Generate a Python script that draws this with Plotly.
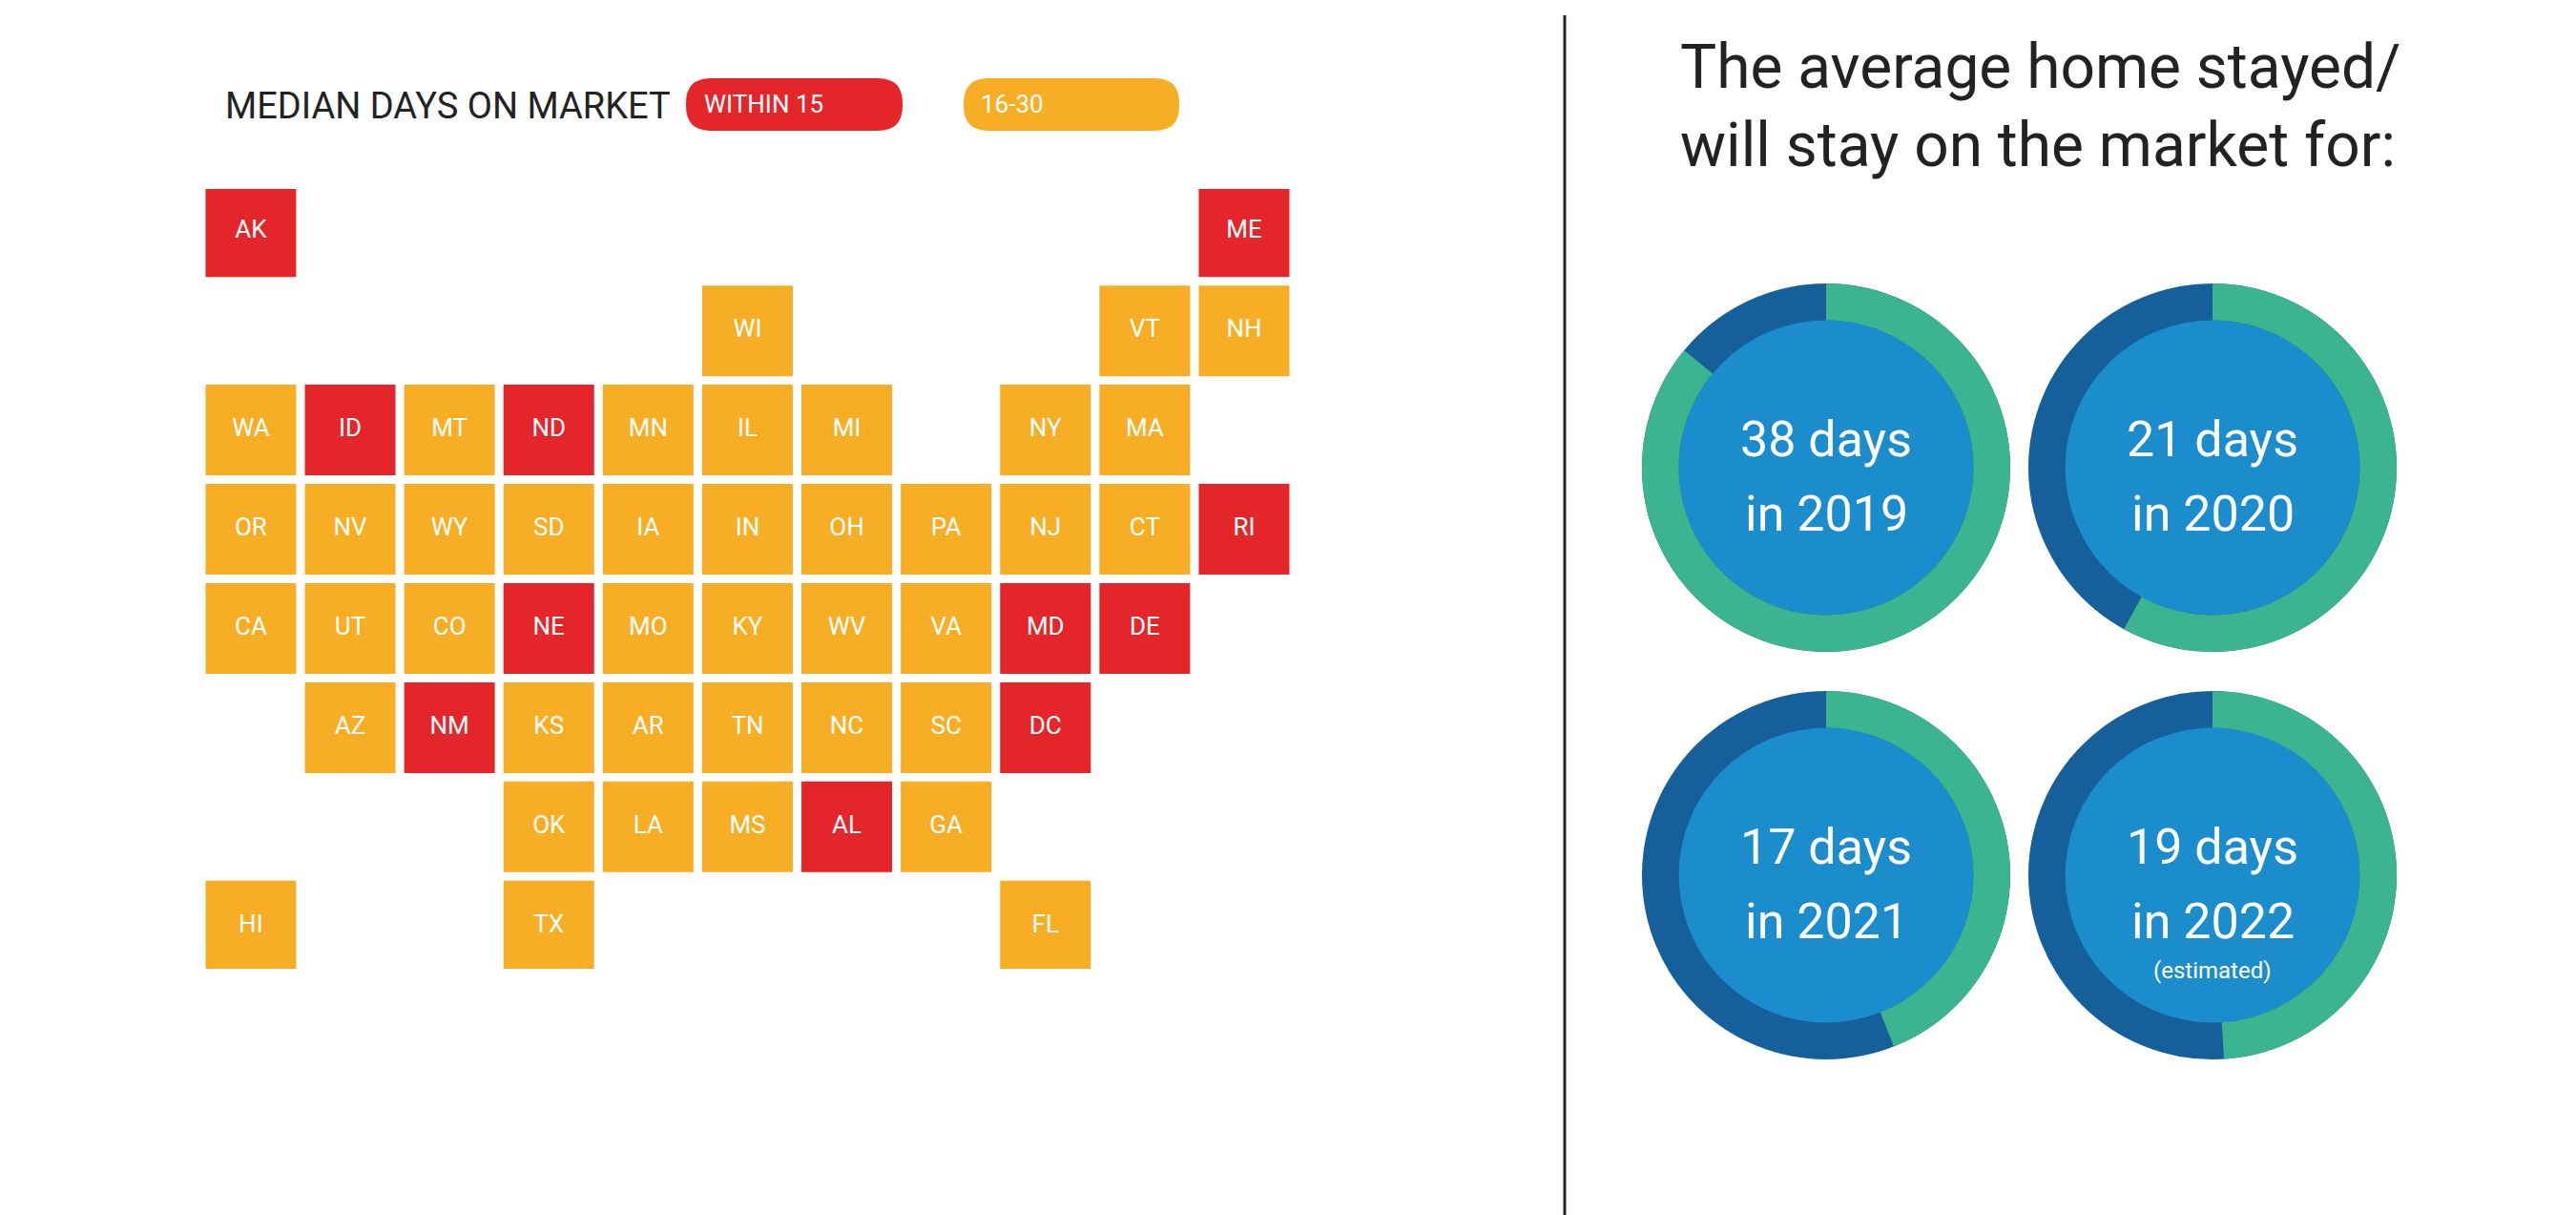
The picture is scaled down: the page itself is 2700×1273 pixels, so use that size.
import plotly.graph_objects as go

W, H = 2700, 1273
states = ["AL","AK","AZ","AR","CA","CO","CT","DE","FL","GA","HI","ID","IL","IN","IA","KS","KY","LA","ME","MD","MA","MI","MN","MS","MO","MT","NE","NV","NH","NJ","NM","NY","NC","ND","OH","OK","OR","PA","RI","SC","SD","TN","TX","UT","VT","VA","WA","WV","WI","WY","DC"]
fast_states = ["AL","AK","ID","ND","NE","NM","ME","MD","DE","RI","DC"]
legend_labels = ["WITHIN 15", "16-30"]
years = ["2019", "2020", "2021", "2022"]
days = [38, 21, 17, 19]
arc_share = [0.86, 0.58, 0.44, 0.49]
notes = ["", "", "", "(estimated)"]

# tile-grid layout (column, row) for each state
GRID = {"AK":(0,0),"ME":(10,0),"WI":(5,1),"VT":(9,1),"NH":(10,1),
 "WA":(0,2),"ID":(1,2),"MT":(2,2),"ND":(3,2),"MN":(4,2),"IL":(5,2),"MI":(6,2),"NY":(8,2),"MA":(9,2),
 "OR":(0,3),"NV":(1,3),"WY":(2,3),"SD":(3,3),"IA":(4,3),"IN":(5,3),"OH":(6,3),"PA":(7,3),"NJ":(8,3),"CT":(9,3),"RI":(10,3),
 "CA":(0,4),"UT":(1,4),"CO":(2,4),"NE":(3,4),"MO":(4,4),"KY":(5,4),"WV":(6,4),"VA":(7,4),"MD":(8,4),"DE":(9,4),
 "AZ":(1,5),"NM":(2,5),"KS":(3,5),"AR":(4,5),"TN":(5,5),"NC":(6,5),"SC":(7,5),"DC":(8,5),
 "OK":(3,6),"LA":(4,6),"MS":(5,6),"AL":(6,6),"GA":(7,6),
 "HI":(0,7),"TX":(3,7),"FL":(8,7)}

RED, ORANGE = "#e4252a", "#f7ae24"
FONT = "Roboto, sans-serif"

fig = go.Figure()
for group, col in [(False, ORANGE), (True, RED)]:
    sel = [s for s in states if (s in fast_states) == group]
    fig.add_trace(go.Scatter(
        x=[GRID[s][0] for s in sel], y=[GRID[s][1] for s in sel], text=sel,
        mode="markers+text", textfont=dict(color="white", size=26, family=FONT),
        marker=dict(symbol="square", size=98, color=col, line=dict(color="white", width=3)),
        hoverinfo="text", showlegend=False))
fig.update_xaxes(domain=[130/W, 1525/W], range=[-1.2, 12.2], visible=False)
fig.update_yaxes(domain=[1-1007/H, 1-190/H], range=[7.43, -0.43], visible=False)

shapes, ann = [], []

def rrect(x0, y0, x1, y1, r, color):
    def px(x): return x / W
    def py(y): return 1 - y / H
    p = (f"M {px(x0+r)},{py(y0)} L {px(x1-r)},{py(y0)} Q {px(x1)},{py(y0)} {px(x1)},{py(y0+r)} "
         f"L {px(x1)},{py(y1-r)} Q {px(x1)},{py(y1)} {px(x1-r)},{py(y1)} L {px(x0+r)},{py(y1)} "
         f"Q {px(x0)},{py(y1)} {px(x0)},{py(y1-r)} L {px(x0)},{py(y0+r)} Q {px(x0)},{py(y0)} {px(x0+r)},{py(y0)} Z")
    return dict(type="path", path=p, xref="paper", yref="paper", fillcolor=color, line_width=0)

shapes.append(rrect(711, 74, 938, 129, 26, RED))
shapes.append(rrect(1002, 74, 1228, 129, 26, ORANGE))
ann.append(dict(x=226/W, y=1-103/H, text="MEDIAN DAYS ON MARKET", xanchor="left", font=dict(size=38, color="#222")))
ann.append(dict(x=728/W, y=1-101/H, text=legend_labels[0], xanchor="left", font=dict(size=26, color="white")))
ann.append(dict(x=1018/W, y=1-101/H, text=legend_labels[1], xanchor="left", font=dict(size=26, color="white")))

shapes.append(dict(type="line", xref="paper", yref="paper", x0=1632/W, x1=1632/W, y0=0, y1=1-8/H,
                   line=dict(color="#222", width=3)))
ann.append(dict(x=1751/W, y=1-62/H, text="The average home stayed/", xanchor="left", font=dict(size=64, color="#222")))
ann.append(dict(x=1751/W, y=1-145/H, text="will stay on the market for:", xanchor="left", font=dict(size=64, color="#222")))

centers = [(1906, 482), (2311, 482), (1906, 909), (2311, 909)]
R = 193
for (cx, cy), d, yr, f, nt in zip(centers, days, years, arc_share, notes):
    shapes.append(dict(type="circle", xref="paper", yref="paper", layer="below",
                       x0=(cx-R)/W, x1=(cx+R)/W, y0=1-(cy+R)/H, y1=1-(cy-R)/H,
                       fillcolor="#155f9b", line_width=0))
    r2 = R*0.8
    shapes.append(dict(type="circle", xref="paper", yref="paper", layer="below",
                       x0=(cx-r2)/W, x1=(cx+r2)/W, y0=1-(cy+r2)/H, y1=1-(cy-r2)/H,
                       fillcolor="#1b8ccc", line_width=0))
    fig.add_trace(go.Pie(values=[f, 1-f], marker=dict(colors=["#3bb48f", "rgba(0,0,0,0)"], line_width=0),
                         hole=0.8, sort=False, direction="clockwise", rotation=0,
                         textinfo="none", hoverinfo="skip", showlegend=False,
                         domain=dict(x=[(cx-R)/W, (cx+R)/W], y=[1-(cy+R)/H, 1-(cy-R)/H])))
    ann.append(dict(x=cx/W, y=1-(cy-30)/H, text=f"{d} days", font=dict(size=52, color="white")))
    ann.append(dict(x=cx/W, y=1-(cy+48)/H, text=f"in {yr}", font=dict(size=52, color="white")))
    if nt:
        ann.append(dict(x=cx/W, y=1-(cy+100)/H, text=nt, font=dict(size=24, color="white")))

for a in ann:
    a.update(xref="paper", yref="paper", showarrow=False, yanchor="middle")
    a.setdefault("xanchor", "center")
fig.update_layout(width=W, height=H, margin=dict(l=0, r=0, t=0, b=0), paper_bgcolor="white",
                  plot_bgcolor="white", shapes=shapes, annotations=ann, font=dict(family=FONT))
fig.write_html("out.html", config={"displayModeBar": False})
